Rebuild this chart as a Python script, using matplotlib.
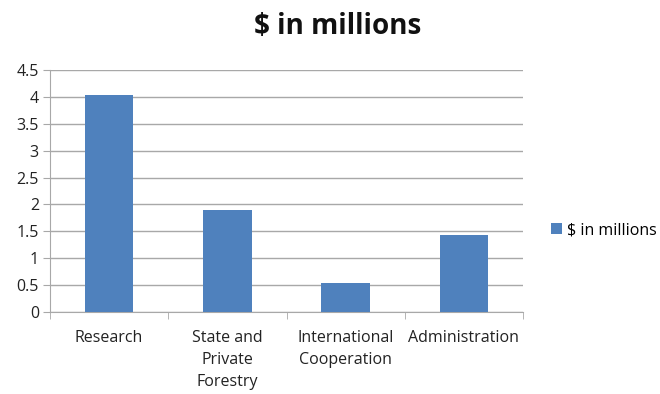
import matplotlib
matplotlib.use("Agg")
import matplotlib.pyplot as plt
import numpy as np

categories = ["Research", "State and\nPrivate\nForestry", "International\nCooperation", "Administration"]
values = [4.04, 1.90, 0.54, 1.44]
series_name = "$ in millions"
yticks = [0, 0.5, 1, 1.5, 2, 2.5, 3, 3.5, 4, 4.5]

plt.rcParams['font.family'] = ['Open Sans', 'DejaVu Sans']

fig = plt.figure(figsize=(6.6, 3.94), dpi=100)
ax = fig.add_axes([50/660, (394-312)/394, (523-50)/660, (312-70)/394])

x = np.arange(len(categories))
ax.bar(x, values, width=0.41, color="#4F81BD", label=series_name, zorder=3)
ax.set_xlim(-0.5, len(categories)-0.5)
ax.set_ylim(0, 4.5)
ax.set_yticks(yticks)
ax.set_yticklabels([f"{t:g}" for t in yticks], fontsize=11.5, color="#222222")
ax.yaxis.grid(True, color="#A8A8A8", linewidth=1.0, zorder=0)
ax.set_xticks(x)
ax.set_xticklabels(categories, fontsize=11.5, color="#222222", linespacing=1.5)
ax.set_xticks(np.arange(len(categories)+1)-0.5, minor=True)
ax.tick_params(axis='x', which='major', length=0, pad=13)
ax.tick_params(axis='x', which='minor', length=5, color="#A8A8A8")
ax.tick_params(axis='y', length=5, color="#A8A8A8", pad=3)
for s in ["top", "right"]:
    ax.spines[s].set_visible(False)
for s in ["left", "bottom"]:
    ax.spines[s].set_color("#A8A8A8")

fig.text(338/660, 1-27/394, series_name, ha="center", va="center", fontsize=20, fontweight="bold", color="#111111")
ax.legend(loc="center left", bbox_to_anchor=(537/660, 1-230/394), bbox_transform=fig.transFigure,
          frameon=False, fontsize=11.5, handlelength=0.65, handleheight=0.65, handletextpad=0.3)

fig.savefig("out.png", dpi=100)
